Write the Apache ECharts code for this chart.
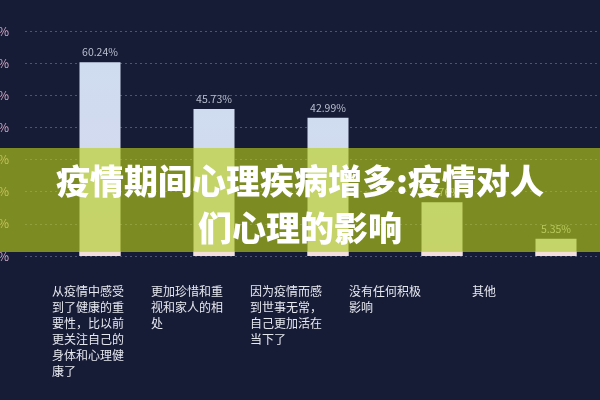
<!DOCTYPE html>
<html>
<head>
<meta charset="utf-8">
<script src="https://cdn.jsdelivr.net/npm/echarts@6/dist/echarts.min.js"></script>
<style>
  html, body { margin: 0; padding: 0; background: #171c36; }
  #chart { width: 600px; height: 400px; }
</style>
</head>
<body>
<div id="chart"></div>
<script>
// 分类和数值
var categories = [
    '从疫情中感受到了健康的重要性，比以前更关注自己的身体和心理健康了',
    '更加珍惜和重视和家人的相处',
    '因为疫情而感到世事无常，自己更加活在当下了',
    '没有任何积极影响',
    '其他'
];
var percents = [60.24, 45.73, 42.99, 16.76, 5.35];
var baseStrip = [1.5, 1.5, 1.5, 1.5, 1.5];   // 柱子底部的粉色条
var yTicks = [0, 10, 20, 30, 40, 50, 60, 70];

var titleLines = ['疫情期间心理疾病增多:疫情对人', '们心理的影响'];

var FONT = '"Noto Sans CJK SC", "Noto Sans", sans-serif';
var yMax = yTicks[yTicks.length - 1];

var option = {
    backgroundColor: '#171c36',
    animation: false,
    grid: [
        { left: 25, right: 0, top: 31, bottom: 144, outerBoundsMode: 'none', containLabel: false },
        { left: 43, width: 570, top: 31, bottom: 144, outerBoundsMode: 'none', containLabel: false },
        { left: 2.5, width: 495, top: 31, bottom: 144, outerBoundsMode: 'none', containLabel: false }
    ],
    xAxis: [
        { gridIndex: 0, type: 'value', show: false },
        { gridIndex: 1, type: 'category', data: categories, show: false },
        {
            gridIndex: 2,
            type: 'category',
            data: categories,
            axisLine: { show: false },
            axisTick: { show: false },
            axisLabel: {
                interval: 0,
                align: 'left',
                width: 73,
                overflow: 'break',
                color: '#e6e8f0',
                fontSize: 12,
                lineHeight: 16,
                margin: 27,
                fontFamily: FONT,
                formatter: function(v){
                    // 短标签在 6 字宽的框里居中
                    if (v.length < 6) {
                        return '{s|' + v + '}';
                    }
                    return v;
                },
                rich: {
                    s: {
                        color: '#e6e8f0',
                        fontSize: 12,
                        lineHeight: 16,
                        fontFamily: FONT,
                        padding: [0, 0, 0, 24]
                    }
                }
            }
        }
    ],
    yAxis: [
        {
            gridIndex: 0,
            type: 'value',
            min: 0,
            max: yMax,
            interval: 10,
            axisLine: { show: false },
            axisTick: { show: false },
            axisLabel: {
                formatter: '{value}%',
                color: '#d3a8c8',
                fontSize: 12,
                margin: 16,
                fontFamily: FONT
            },
            splitLine: {
                lineStyle: { color: '#4c5374', type: [2, 3], width: 1 }
            }
        },
        { gridIndex: 1, type: 'value', min: 0, max: yMax, show: false },
        { gridIndex: 2, type: 'value', min: 0, max: yMax, show: false }
    ],
    series: [
        {
            type: 'bar',
            xAxisIndex: 1,
            yAxisIndex: 1,
            data: percents,
            barWidth: 41,
            itemStyle: {
                color: new echarts.graphic.LinearGradient(0, 0, 0, 1, [
                    { offset: 0, color: '#cfdcf0' },
                    { offset: 1, color: '#d6d8ec' }
                ])
            },
            label: {
                show: true,
                position: 'top',
                distance: 5,
                formatter: '{c}%',
                color: '#b9bfcf',
                fontSize: 10.5,
                fontFamily: FONT
            },
            z: 2
        },
        {
            type: 'bar',
            xAxisIndex: 1,
            yAxisIndex: 1,
            data: baseStrip,
            barWidth: 41,
            barGap: '-100%',
            itemStyle: { color: '#f4dedb' },
            z: 3
        }
    ],
    graphic: [
        {
            type: 'rect',
            z: 50,
            shape: { x: 0, y: 148, width: 600, height: 104 },
            style: { fill: 'rgba(188,208,22,0.62)' }
        },
        {
            type: 'text',
            z: 60,
            style: {
                text: titleLines[0],
                x: 300, y: 181,
                align: 'center', verticalAlign: 'middle',
                font: '900 34px ' + FONT,
                fill: '#ffffff',
                shadowBlur: 3, shadowColor: 'rgba(0,0,0,0.35)'
            }
        },
        {
            type: 'text',
            z: 60,
            style: {
                text: titleLines[1],
                x: 300, y: 228,
                align: 'center', verticalAlign: 'middle',
                font: '900 34px ' + FONT,
                fill: '#ffffff',
                shadowBlur: 3, shadowColor: 'rgba(0,0,0,0.35)'
            }
        }
    ]
};

var myChart = echarts.init(document.getElementById('chart'));
myChart.setOption(option);
</script>
</body>
</html>
